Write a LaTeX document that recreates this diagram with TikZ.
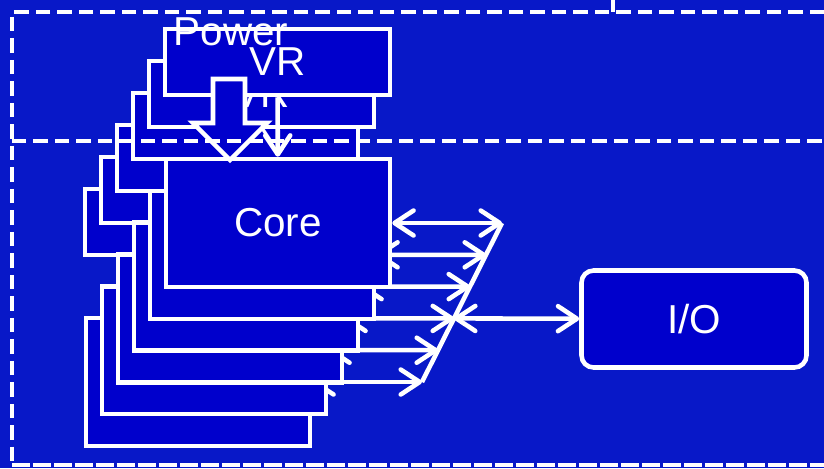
\documentclass[tikz,border=0pt]{standalone}
\usepackage{fontspec}
\setmainfont{Liberation Sans}
\usetikzlibrary{arrows.meta,calc}
\definecolor{chipblue}{RGB}{0,0,204}
\definecolor{dieblue}{RGB}{8,24,200}
\pgfdeclarelayer{bg}
\pgfdeclarelayer{links}
\pgfsetlayers{bg,links,main}
\tikzset{
  blk/.style={draw=white,fill=chipblue,line width=2.6pt,inner sep=0pt,text=white},
  corebox/.style={blk,minimum width=4.48cm,minimum height=2.56cm},
  vrbox/.style={blk,minimum width=4.5cm,minimum height=1.32cm},
  wire/.style={white,line width=2.6pt},
  barb/.tip={Straight Barb[length=0.38cm,width=0.5cm,round]},
  link/.style={wire,barb-barb},
  frame/.style={white,line width=2.6pt,dash pattern=on 0.29cm off 0.14cm}
}

\begin{document}
\begin{tikzpicture}[x=0.02cm,y=-0.02cm,font=\fontsize{23}{27}\selectfont]
  \useasboundingbox (0,0) rectangle (824,468);
  \begin{pgfonlayer}{bg}
    \fill[dieblue] (0,0) rectangle (824,468);
  \end{pgfonlayer}
  \foreach \i in {5,...,0} {
    \pgfmathsetmacro{\x}{277.5-16*\i}
    \pgfmathsetmacro{\y}{62+32*\i}
    \node[vrbox] (vr\i) at (\x,\y) {VR};
  }
  \node[text=white] (pwr) at (231,32) {Power};
  \foreach \i in {5,...,0} {
    \pgfmathsetmacro{\x}{278-16*\i}
    \pgfmathsetmacro{\y}{223+31.8*\i}
    \node[corebox] (core\i) at (\x,\y) {\ifnum\i=0 Core\fi};
  }
  \node[blk,rounded corners=0.24cm,minimum width=4.5cm,minimum height=1.94cm] (io) at (694,319) {I/O};
  \coordinate (s0) at (502,223);
  \coordinate (s5) at (422,382);
  \foreach \i in {1,...,4} \coordinate (s\i) at ($(s0)!\i/5!(s5)$);
  \begin{pgfonlayer}{links}
    \foreach \i in {0,...,5} \draw[link] (core\i.east) -- (s\i);
  \end{pgfonlayer}
  \draw[wire] (s0) -- (s5);
  \draw[link] (s3) -- (io);
  \filldraw[wire,fill=chipblue] (213,79) -- (245,79) -- (245,123) -- (267,123) -- (230,160) -- (193,123) -- (213,123) -- cycle;
  \draw[wire,-barb] (vr0) -- (core0);
  \draw[frame] (824,12) -- (12,12) -- (12,465);
  \draw[frame,dash pattern=on 0.36cm off 0.06cm] (12,465) -- (824,465);
  \draw[frame] (12,141) -- (824,141);
  \draw[wire] (613,0) -- (613,12);
\end{tikzpicture}
\end{document}
